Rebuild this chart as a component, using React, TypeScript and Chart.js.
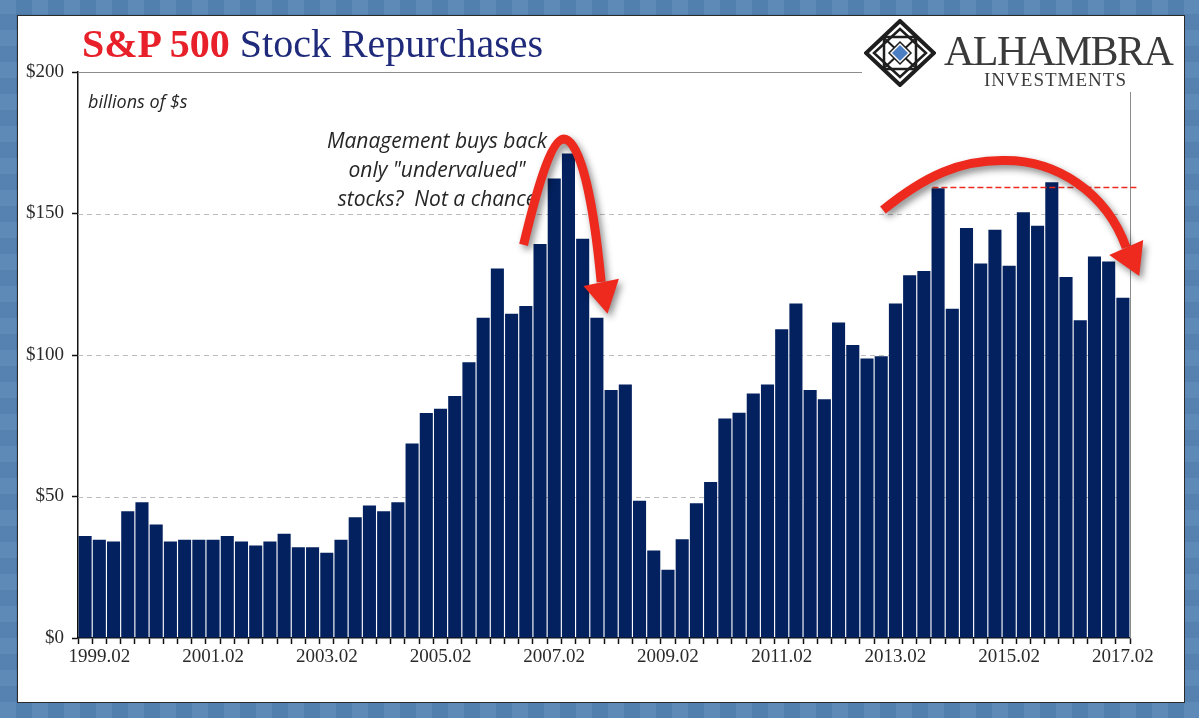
import { useEffect, useRef } from "react"
import { Chart, registerables } from "chart.js"

Chart.register(...registerables)

// S&P 500 quarterly buybacks, billions of $
const quarters = [
  "1998.11",
  "1999.02", "1999.05", "1999.08", "1999.11",
  "2000.02", "2000.05", "2000.08", "2000.11",
  "2001.02", "2001.05", "2001.08", "2001.11",
  "2002.02", "2002.05", "2002.08", "2002.11",
  "2003.02", "2003.05", "2003.08", "2003.11",
  "2004.02", "2004.05", "2004.08", "2004.11",
  "2005.02", "2005.05", "2005.08", "2005.11",
  "2006.02", "2006.05", "2006.08", "2006.11",
  "2007.02", "2007.05", "2007.08", "2007.11",
  "2008.02", "2008.05", "2008.08", "2008.11",
  "2009.02", "2009.05", "2009.08", "2009.11",
  "2010.02", "2010.05", "2010.08", "2010.11",
  "2011.02", "2011.05", "2011.08", "2011.11",
  "2012.02", "2012.05", "2012.08", "2012.11",
  "2013.02", "2013.05", "2013.08", "2013.11",
  "2014.02", "2014.05", "2014.08", "2014.11",
  "2015.02", "2015.05", "2015.08", "2015.11",
  "2016.02", "2016.05", "2016.08", "2016.11",
  "2017.02",
]

const buybacks = [
  36.0,
  34.7, 34.1, 44.8, 48.0,
  40.1, 34.1, 34.7, 34.7,
  34.7, 36.0, 34.1, 32.7,
  34.1, 36.8, 32.1, 32.1,
  30.1, 34.7, 42.7, 46.8,
  44.8, 48.0, 68.7, 79.5,
  81.0, 85.5, 97.4, 113.2,
  130.6, 114.6, 117.3, 139.2,
  162.4, 171.2, 141.1, 113.2,
  87.6, 89.6, 48.5, 30.9,
  24.1, 34.9, 47.6, 55.1,
  77.6, 79.6, 86.4, 89.6,
  109.1, 118.2, 87.6, 84.4,
  111.5, 103.5, 98.8, 99.6,
  118.2, 128.2, 129.7, 158.9,
  116.3, 144.9, 132.3, 144.3,
  131.5, 150.4, 145.7, 161.0,
  127.6, 112.3, 134.8, 133.0,
  120.2,
]

const tickLabels = [
  "1999.02", "2001.02", "2003.02", "2005.02", "2007.02",
  "2009.02", "2011.02", "2013.02", "2015.02", "2017.02",
]
const yTicks = [0, 50, 100, 150, 200]
const gridValues = [50, 100, 150]

const noteLines = ["Management buys back", "only \"undervalued\"", "stocks?  Not a chance"]

// annotation geometry in data space: [category index, value]
const peakArrow = {
  start: [30.84, 138.9], c1: [31.68, 156.5], c2: [32.74, 176.0], mid: [33.65, 176.3],
  c3: [34.85, 176.3], c4: [35.75, 154.8], end: [36.3, 125.8],
  headLeft: [35.05, 124.4], headTip: [36.75, 114.6], headRight: [37.55, 126.9],
}
const plateauArrow = {
  start: [56.12, 151.2], c1: [59.15, 163.6], c2: [61.61, 168.9], mid: [64.64, 168.7],
  c3: [68.3, 168.9], c4: [71.82, 157.6], end: [73.23, 138.0],
  headLeft: [72.04, 135.3], headTip: [74.15, 127.9], headRight: [74.43, 140.6],
}
const ceiling = { from: 59.6, to: 74.05, value: 159.2 }

const RED = "#ee2a1e"
const NAVY = "#03215f"
const SERIF = "'Liberation Serif', 'Times New Roman', serif"

type Pt = number[]
type ArrowDef = Record<string, Pt>

function drawArrow(chart: Chart, a: ArrowDef) {
  const { ctx } = chart
  const xs = chart.scales.x
  const ys = chart.scales.y
  const p = (q: Pt) => [xs.getPixelForValue(q[0]), ys.getPixelForValue(q[1])]
  const s = p(a.start), c1 = p(a.c1), c2 = p(a.c2), m = p(a.mid)
  const c3 = p(a.c3), c4 = p(a.c4), e = p(a.end)
  const hl = p(a.headLeft), ht = p(a.headTip), hr = p(a.headRight)

  ctx.save()
  ctx.shadowColor = "rgba(0,0,0,0.45)"
  ctx.shadowBlur = 7
  ctx.shadowOffsetX = 3
  ctx.shadowOffsetY = 4
  ctx.strokeStyle = RED
  ctx.fillStyle = RED
  ctx.lineWidth = 9
  ctx.lineCap = "butt"
  ctx.lineJoin = "round"
  ctx.beginPath()
  ctx.moveTo(s[0], s[1])
  ctx.bezierCurveTo(c1[0], c1[1], c2[0], c2[1], m[0], m[1])
  ctx.bezierCurveTo(c3[0], c3[1], c4[0], c4[1], e[0], e[1])
  ctx.stroke()
  ctx.beginPath()
  ctx.moveTo(hl[0], hl[1])
  ctx.lineTo(ht[0], ht[1])
  ctx.lineTo(hr[0], hr[1])
  ctx.closePath()
  ctx.fill()
  ctx.restore()
}

const overlayPlugin = {
  id: "overlay",
  beforeDatasetsDraw(chart: Chart) {
    const { ctx, chartArea } = chart
    const ys = chart.scales.y
    ctx.save()
    // dashed gridlines
    ctx.strokeStyle = "#bcbcbc"
    ctx.lineWidth = 1
    ctx.setLineDash([5, 4])
    gridValues.forEach((v) => {
      const py = Math.round(ys.getPixelForValue(v)) + 0.5
      ctx.beginPath()
      ctx.moveTo(chartArea.left, py)
      ctx.lineTo(chartArea.right, py)
      ctx.stroke()
    })
    // plot frame: top and right (interrupted by the logo)
    ctx.setLineDash([])
    ctx.strokeStyle = "#8c8c8c"
    const top = Math.round(ys.getPixelForValue(200)) + 0.5
    ctx.beginPath()
    ctx.moveTo(chartArea.left, top)
    ctx.lineTo(862, top)
    ctx.stroke()
    const right = Math.round(chartArea.right) + 0.5
    ctx.beginPath()
    ctx.moveTo(right, 92)
    ctx.lineTo(right, chartArea.bottom)
    ctx.stroke()

    // texts
    ctx.fillStyle = "#262626"
    ctx.font = "italic 18px 'Open Sans'"
    ctx.textAlign = "left"
    ctx.textBaseline = "middle"
    ctx.fillText("billions of $s", 88, 103)
    ctx.font = "italic 21px 'Open Sans'"
    ctx.textAlign = "center"
    noteLines.forEach((t, k) => ctx.fillText(t, 437, 142 + k * 29))
    ctx.restore()
  },
  afterDatasetsDraw(chart: Chart) {
    const { ctx } = chart
    const xs = chart.scales.x
    const ys = chart.scales.y
    ctx.save()
    ctx.strokeStyle = RED
    ctx.lineWidth = 1.5
    ctx.setLineDash([6, 3])
    const cy = ys.getPixelForValue(ceiling.value)
    ctx.beginPath()
    ctx.moveTo(xs.getPixelForValue(ceiling.from), cy)
    ctx.lineTo(xs.getPixelForValue(ceiling.to), cy)
    ctx.stroke()
    ctx.restore()
    drawArrow(chart, peakArrow)
    drawArrow(chart, plateauArrow)
  },
}

function Logo() {
  return (
    <svg
      width={72}
      height={68}
      viewBox="0 0 72 68"
      style={{ position: "absolute", left: 864, top: 19 }}
    >
      <polygon points="36,2 70,34 36,66 2,34" fill="#fff" stroke="#1e1e1e" strokeWidth={4} />
      <polygon points="36,10 62,34 36,58 10,34" fill="none" stroke="#1e1e1e" strokeWidth={2.5} />
      <rect x={20} y={18} width={32} height={32} fill="none" stroke="#1e1e1e" strokeWidth={2.5} />
      <line x1={19} y1={18} x2={53} y2={50} stroke="#1e1e1e" strokeWidth={2} />
      <line x1={53} y1={18} x2={19} y2={50} stroke="#1e1e1e" strokeWidth={2} />
      <polygon points="36,23 47,34 36,45 25,34" fill="#fff" stroke="#1e1e1e" strokeWidth={1.5} />
      <polygon points="36,26 44,34 36,42 28,34" fill="#4a7fc4" />
    </svg>
  )
}

export default function App() {
  const chartRef = useRef<HTMLCanvasElement>(null)
  const chartInstance = useRef<Chart | null>(null)

  useEffect(() => {
    if (!chartRef.current) return
    if (chartInstance.current) chartInstance.current.destroy()
    const ctx = chartRef.current.getContext("2d")
    if (!ctx) return

    chartInstance.current = new Chart(ctx, {
      type: "bar",
      data: {
        labels: quarters,
        datasets: [
          {
            label: "Buybacks",
            data: buybacks,
            backgroundColor: NAVY,
            categoryPercentage: 1,
            barPercentage: 0.92,
          },
        ],
      },
      options: {
        responsive: true,
        maintainAspectRatio: false,
        animation: false,
        layout: { padding: { top: 72, right: 69, bottom: 0, left: 0 } },
        scales: {
          x: {
            offset: true,
            ticks: {
              autoSkip: false,
              maxRotation: 0,
              minRotation: 0,
              padding: 2,
              color: "#2a2a2a",
              font: { family: SERIF, size: 19 },
              callback: (_v, i) => (tickLabels.includes(quarters[i]) ? quarters[i] : ""),
            },
            grid: {
              offset: true,
              drawOnChartArea: false,
              tickLength: 6,
              tickColor: "#111",
              tickWidth: 1.5,
            },
            border: { color: "#111", width: 1.5 },
            afterFit: (s) => {
              s.height = 80
            },
          },
          y: {
            min: 0,
            max: 200,
            afterBuildTicks: (s) => {
              s.ticks = yTicks.map((v) => ({ value: v }))
            },
            ticks: {
              padding: 8,
              color: "#2a2a2a",
              font: { family: SERIF, size: 19 },
              callback: (v) => `$${v}`,
            },
            grid: {
              drawOnChartArea: false,
              tickLength: 6,
              tickColor: "#111",
              tickWidth: 1.5,
            },
            border: { color: "#111", width: 1.5 },
            afterFit: (s) => {
              s.width = 78
            },
          },
        },
        plugins: {
          legend: { display: false },
          tooltip: { enabled: false },
        },
      },
      plugins: [overlayPlugin],
    })

    return () => {
      if (chartInstance.current) {
        chartInstance.current.destroy()
        chartInstance.current = null
      }
    }
  }, [])

  return (
    <div
      style={{
        position: "relative",
        width: 1199,
        height: 718,
        overflow: "hidden",
        backgroundColor: "#4e7fb1",
        backgroundImage:
          "repeating-linear-gradient(90deg, rgba(255,255,255,0.05) 0 16px, rgba(0,0,0,0.03) 16px 32px), repeating-linear-gradient(0deg, rgba(255,255,255,0.04) 0 16px, rgba(0,0,0,0.03) 16px 32px)",
      }}
    >
      <style>{"body{margin:0}"}</style>
      <div
        style={{
          position: "absolute",
          left: 17,
          top: 15,
          width: 1166,
          height: 686,
          background: "#fff",
          border: "1px solid #2b2b2b",
        }}
      />
      <div style={{ position: "absolute", left: 0, top: 0, width: 1199, height: 718 }}>
        <canvas ref={chartRef} />
      </div>
      <div
        style={{
          position: "absolute",
          left: 82,
          top: 24,
          fontFamily: SERIF,
          fontSize: 40,
          lineHeight: 1,
          whiteSpace: "nowrap",
        }}
      >
        <span style={{ color: "#e8202a", fontWeight: 700 }}>S&amp;P 500</span>{" "}
        <span style={{ color: "#1f2a7a" }}>Stock Repurchases</span>
      </div>
      <Logo />
      <div
        style={{
          position: "absolute",
          left: 944,
          top: 30,
          fontFamily: SERIF,
          fontSize: 42,
          lineHeight: 1,
          letterSpacing: -1.5,
          color: "#3a3a3a",
          whiteSpace: "nowrap",
        }}
      >
        ALHAMBRA
      </div>
      <div
        style={{
          position: "absolute",
          left: 984,
          top: 70,
          fontFamily: SERIF,
          fontSize: 19,
          lineHeight: 1,
          letterSpacing: 1,
          color: "#3a3a3a",
          whiteSpace: "nowrap",
        }}
      >
        INVESTMENTS
      </div>
    </div>
  )
}
